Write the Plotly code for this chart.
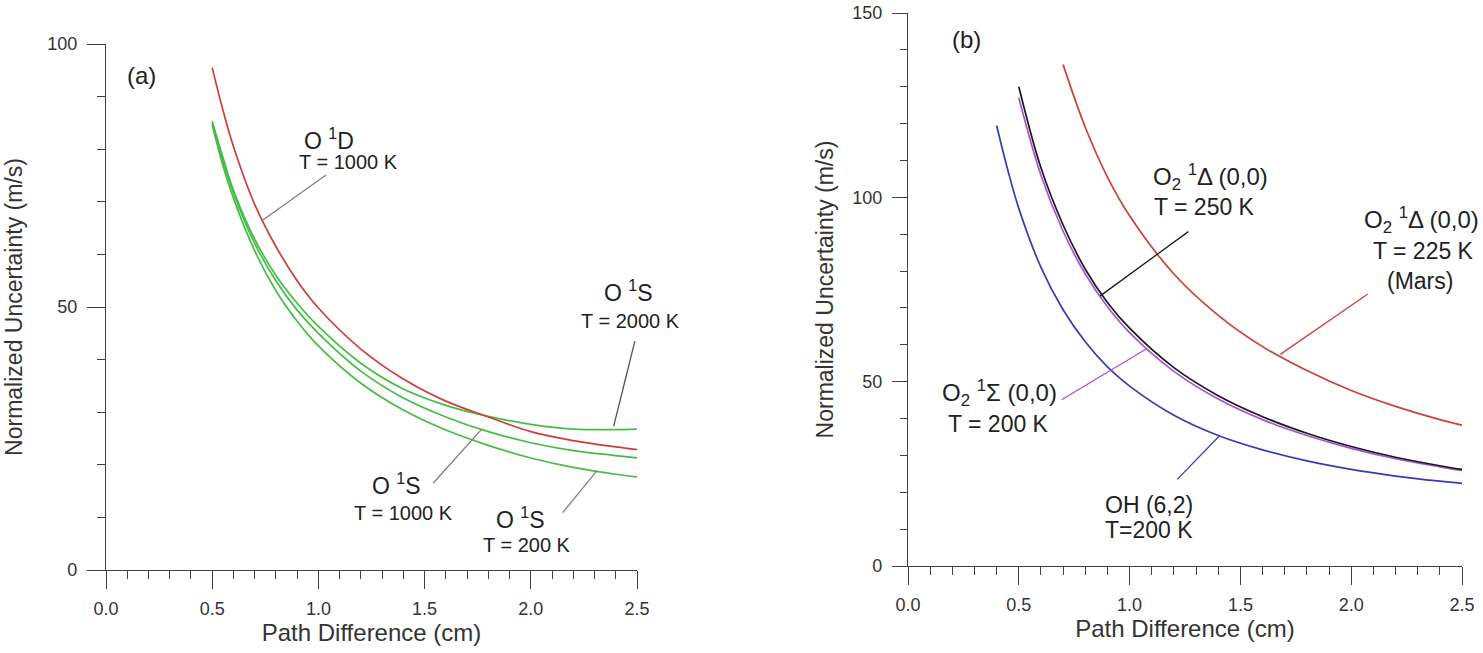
import plotly.graph_objects as go

# --- panel (a) : O 1D / O 1S lines ---
path_a = [0.5, 0.55, 0.6, 0.7, 0.8, 0.9, 1.0, 1.2, 1.4, 1.6, 1.8, 2.0, 2.2, 2.4, 2.5]
o1d_1000k = [95.5, 87.5, 80.5, 69.5, 61.5, 55.0, 49.8, 42.0, 36.3, 32.1, 29.1, 26.3, 24.6, 23.4, 22.9]
o1s_2000k = [85.3, 78.5, 72.2, 62.9, 56.0, 50.7, 46.3, 39.3, 34.4, 31.3, 29.2, 27.7, 26.8, 26.7, 26.8]
o1s_1000k = [85.0, 77.8, 71.7, 62.1, 55.0, 49.4, 45.0, 37.8, 32.7, 29.1, 26.3, 24.2, 22.7, 21.75, 21.3]
o1s_200k = [84.6, 77.0, 70.7, 60.7, 53.1, 47.3, 42.6, 35.5, 30.4, 26.6, 23.7, 21.3, 19.5, 18.2, 17.7]

# --- panel (b) : molecular bands ---
path_mars = [0.7, 0.8, 0.9, 1.0, 1.2, 1.4, 1.6, 1.8, 2.0, 2.2, 2.4, 2.5]
o2_delta_225k = [136.0, 119.0, 105.5, 95.0, 79.2, 68.0, 59.5, 53.0, 47.6, 43.3, 39.7, 38.2]
path_o2 = [0.5, 0.6, 0.7, 0.8, 0.9, 1.0, 1.2, 1.4, 1.6, 1.8, 2.0, 2.2, 2.4, 2.5]
o2_delta_250k = [130.0, 108.0, 92.5, 80.5, 71.5, 64.5, 53.8, 46.2, 40.5, 36.0, 32.4, 29.5, 27.2, 26.2]
o2_sigma_200k = [127.0, 106.0, 90.8, 79.2, 70.3, 63.3, 52.8, 45.3, 39.7, 35.4, 31.9, 29.1, 26.9, 25.9]
path_oh = [0.4, 0.45, 0.5, 0.6, 0.7, 0.8, 0.9, 1.0, 1.2, 1.4, 1.6, 1.8, 2.0, 2.2, 2.4, 2.5]
oh_62_200k = [119.5, 107.5, 97.0, 81.0, 69.5, 60.8, 54.0, 48.8, 40.9, 35.4, 31.5, 28.5, 26.2, 24.4, 23.0, 22.4]

x_ticks = [0.0, 0.5, 1.0, 1.5, 2.0, 2.5]
x_ticklabels = ["0.0", "0.5", "1.0", "1.5", "2.0", "2.5"]

FONT = "Liberation Sans, Arial, sans-serif"
AXIS = "#404040"
RED = "#cc3f3a"
GREEN = "#45bd45"
BLACK = "#1a1a1a"
VIOLET = "#a653d8"
BLUE = "#3a3ab4"

fig = go.Figure()

def curve(x, y, color, xa="x", ya="y"):
    fig.add_trace(go.Scatter(x=x, y=y, mode="lines", xaxis=xa, yaxis=ya,
                             line=dict(color=color, width=1.7, shape="spline"),
                             showlegend=False, hoverinfo="skip"))

curve(path_a, o1s_200k, GREEN)
curve(path_a, o1s_1000k, GREEN)
curve(path_a, o1s_2000k, GREEN)
curve(path_a, o1d_1000k, RED)

curve(path_oh, oh_62_200k, BLUE, "x2", "y2")
curve(path_o2, o2_sigma_200k, VIOLET, "x2", "y2")
curve(path_o2, o2_delta_250k, BLACK, "x2", "y2")
curve(path_mars, o2_delta_225k, RED, "x2", "y2")

# leader lines (x0, y0, x1, y1, colour, axis suffix)
leaders = [
    (1.036, 75.1, 0.737, 66.5, "#808080", ""),
    (2.49, 43.5, 2.39, 27.3, "#505050", ""),
    (1.767, 26.7, 1.54, 16.5, "#808080", ""),
    (2.31, 18.8, 2.15, 10.9, "#808080", ""),
    (1.265, 90.7, 0.866, 73.2, BLACK, "2"),
    (2.075, 73.8, 1.68, 57.4, RED, "2"),
    (0.693, 45.1, 1.073, 58.8, VIOLET, "2"),
    (1.215, 23.5, 1.407, 35.4, BLUE, "2"),
]
for x0, y0, x1, y1, c, s in leaders:
    fig.add_shape(type="line", x0=x0, y0=y0, x1=x1, y1=y1, xref="x" + s, yref="y" + s,
                  line=dict(color=c, width=1.3))

# text labels (x, y, text, size, axis suffix)
labels = [
    (0.165, 94.0, "(a)", 24, ""),
    (1.05, 82.0, "O <sup>1</sup>D", 23, ""),
    (1.14, 77.5, "T = 1000 K", 20, ""),
    (2.46, 53.0, "O <sup>1</sup>S", 23, ""),
    (2.47, 47.3, "T = 2000 K", 20, ""),
    (1.37, 16.3, "O <sup>1</sup>S", 23, ""),
    (1.40, 10.9, "T = 1000 K", 20, ""),
    (1.95, 9.9, "O <sup>1</sup>S", 23, ""),
    (1.98, 4.8, "T = 200 K", 20, ""),
    (0.263, 142.7, "(b)", 24, "2"),
    (1.366, 105.6, "O<sub>2</sub> <sup>1</sup>Δ (0,0)", 24, "2"),
    (1.34, 97.3, "T = 250 K", 23, "2"),
    (2.317, 93.8, "O<sub>2</sub> <sup>1</sup>Δ (0,0)", 24, "2"),
    (2.324, 85.4, "T = 225 K", 23, "2"),
    (2.31, 77.3, "(Mars)", 23, "2"),
    (0.415, 47.0, "O<sub>2</sub> <sup>1</sup>Σ (0,0)", 24, "2"),
    (0.408, 38.6, "T = 200 K", 23, "2"),
    (1.087, 16.6, "OH (6,2)", 23, "2"),
    (1.087, 9.8, "T=200 K", 23, "2"),
]
for x, y, t, size, s in labels:
    fig.add_annotation(x=x, y=y, text=t, xref="x" + s, yref="y" + s, showarrow=False,
                       font=dict(family=FONT, size=size, color="#222222"))

axis_common = dict(showline=True, linecolor=AXIS, linewidth=1.3, showgrid=False, automargin=False,
                   zeroline=False, ticks="outside", ticklen=18, tickwidth=1.3,
                   tickcolor=AXIS, tickfont=dict(family=FONT, size=18, color="#333333"))
minor = dict(ticklen=8, ticks="outside", tickcolor=AXIS, tickwidth=1.2)
x_common = dict(axis_common, range=[0, 2.5], tickvals=x_ticks, ticktext=x_ticklabels,
                ticklabelstandoff=4, minor=dict(minor, dtick=0.1),
                title=dict(text="Path Difference (cm)", font=dict(family=FONT, size=24, color="#333333"),
                           standoff=3))
y_title = dict(text="Normalized Uncertainty (m/s)", font=dict(family=FONT, size=23, color="#333333"))

fig.update_layout(
    width=1483, height=653, paper_bgcolor="white", plot_bgcolor="white",
    margin=dict(l=0, r=0, t=0, b=0),
    xaxis=dict(x_common, domain=[106 / 1483, 637 / 1483], anchor="y"),
    yaxis=dict(axis_common, range=[0, 100], tickvals=[0, 50, 100], domain=[83 / 653, 609 / 653],
               anchor="x", ticklabelstandoff=6, minor=dict(minor, dtick=10),
               title=dict(y_title, standoff=18)),
    xaxis2=dict(x_common, domain=[908 / 1483, 1462 / 1483], anchor="y2"),
    yaxis2=dict(axis_common, range=[0, 150], tickvals=[0, 50, 100, 150], domain=[87 / 653, 640 / 653],
                anchor="x2", ticklen=15, ticklabelstandoff=6, minor=dict(minor, dtick=10, ticklen=7),
                title=dict(y_title, standoff=12)),
)

# the page body has a default 8px margin; drop it so the figure fills the window exactly
fig.write_html("out.html", config={"displayModeBar": False},
               post_script="document.body.style.margin='0';")
